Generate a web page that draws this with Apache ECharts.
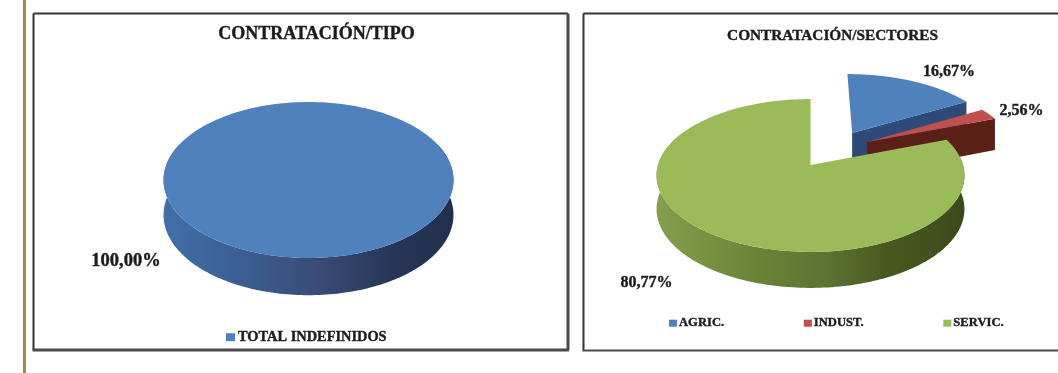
<!DOCTYPE html>
<html>
<head>
<meta charset="utf-8">
<style>html,body{margin:0;padding:0;background:#fff}#c{width:1058px;height:373px;filter:blur(0.4px)}</style>
<script src="https://cdn.jsdelivr.net/npm/echarts@6/dist/echarts.min.js"></script>
</head>
<body>
<div id="c"></div>
<script>
// ---- data ----
var typeTitle = 'CONTRATACIÓN/TIPO';
var typeNames = ['TOTAL INDEFINIDOS'];
var typeValues = [100.00];
var sectorTitle = 'CONTRATACIÓN/SECTORES';
var sectorNames = ['AGRIC.', 'INDUST.', 'SERVIC.'];
var sectorValues = [16.67, 2.56, 80.77];

// ---- look ----
var FONT = '"Liberation Serif", serif';
var TEXT = '#1c1c1c';
var BLUE = '#4f81bd', DARKBLUE = '#2f4a78';
var RED = '#c0504d', DARKRED = '#5a1f15';
var GREEN = '#9bbb59';
var HEAVY = {textBorderColor: TEXT, textBorderWidth: 0.4};
function hGrad(stops) {
  return {type: 'linear', x: 0, y: 0, x2: 1, y2: 0, global: false,
    colorStops: stops.map(function (s) { return {offset: s[0], color: s[1]}; })};
}
var blueSide = hGrad([[0, '#4070a8'], [0.3, '#3b5c90'], [0.55, '#384a74'], [0.8, '#263556'], [1, '#20304e']]);
var greenSide = hGrad([[0, '#839f4c'], [0.3, '#6c863a'], [0.55, '#5c7331'], [0.75, '#48591f'], [1, '#3c4a1b']]);

// Perspective disc: circle coordinates (u, v) to the page
var PERSP = 0.137;
var typeDisc = {cx: 308.5, cy: 169.3, a: 143.6, b: 76.5, d0: 34.5, d1: 2.75};
var sectorDisc = {cx: 810.5, cy: 165, a: 152.5, b: 75, d0: 33.25, d1: 2.75};

function project(disc, u, v, down) {
  var w = 1 + PERSP * v;
  return [disc.cx + disc.a * u / w,
          disc.cy - disc.b * v / w + (down ? disc.d0 - disc.d1 * v : 0)];
}
function rimPoint(disc, off, deg, down) {
  var r = deg * Math.PI / 180;
  return project(disc, off[0] + Math.sin(r), off[1] + Math.cos(r), down);
}
function topFace(disc, off, a0, a1) {
  var pts = [project(disc, off[0], off[1])];
  for (var i = 0; i <= 180; i++) pts.push(rimPoint(disc, off, a0 + (a1 - a0) * i / 180));
  return pts;
}
function arcSide(disc, off, a0, a1) {
  var t = [], b = [];
  for (var i = 0; i <= 180; i++) {
    var d = a0 + (a1 - a0) * i / 180;
    t.push(rimPoint(disc, off, d));
    b.unshift(rimPoint(disc, off, d, true));
  }
  return t.concat(b);
}
function radialSide(disc, off, deg) {
  return [project(disc, off[0], off[1]), rimPoint(disc, off, deg),
          rimPoint(disc, off, deg, true), project(disc, off[0], off[1], true)];
}
function poly(points, fill) {
  return {type: 'polygon', shape: {points: points}, style: {fill: fill}};
}
function pctText(v) { return v.toFixed(2).replace('.', ',') + '%'; }
function label(v, pos, size) {
  return {type: 'text', style: {text: pctText(v), x: pos[0], y: pos[1], fill: TEXT,
    stroke: TEXT, lineWidth: 0.4,
    font: 'bold ' + size + 'px ' + FONT, align: 'center', verticalAlign: 'middle'}, z2: 10};
}
function startAngle(values, idx) {
  var total = values.reduce(function (a, b) { return a + b; }, 0), s = 0;
  for (var i = 0; i < idx; i++) s += values[i];
  return s / total * 360;
}
function sweep(values, idx) {
  var total = values.reduce(function (a, b) { return a + b; }, 0);
  return values[idx] / total * 360;
}

// explode offsets of the slices on the disc, and how each slice is drawn
var sectorOffsets = [[0.29, 0.4537], [0.386, 0.32], [0, 0]];
var sectorColors = [BLUE, RED, GREEN];
var sectorLabelPos = [[949, 72], [1021.5, 111], [646.5, 283]];
var sectorSides = [
  function (off, a0, a1) { return [poly(radialSide(sectorDisc, off, a1), DARKBLUE)]; },
  function (off, a0, a1) { return [poly(radialSide(sectorDisc, off, a1), DARKRED)]; },
  function (off, a0, a1) { return [poly(arcSide(sectorDisc, off, a0, 300), greenSide)]; }
];

var series = [];
series.push({
  type: 'custom', name: typeNames[0], coordinateSystem: 'none', silent: true,
  itemStyle: {color: BLUE}, data: typeValues, z: 2,
  renderItem: function (params, api) {
    var off = [0, 0];
    return {type: 'group', children: [
      poly(arcSide(typeDisc, off, 70, 290), blueSide),
      poly(topFace(typeDisc, off, 0, 360), BLUE),
      label(api.value(0), [126, 261], 18.5)
    ]};
  }
});
sectorValues.forEach(function (val, i) {
  series.push({
    type: 'custom', name: sectorNames[i], coordinateSystem: 'none', silent: true,
    itemStyle: {color: sectorColors[i]}, data: [val], z: 2 + i,
    renderItem: function (params, api) {
      var a0 = startAngle(sectorValues, i), a1 = a0 + sweep(sectorValues, i), off = sectorOffsets[i];
      return {type: 'group', children: sectorSides[i](off, a0, a1).concat([
        poly(topFace(sectorDisc, off, a0, a1), sectorColors[i]),
        label(api.value(0), sectorLabelPos[i], 16)
      ])};
    }
  });
});

function frame(x, y, w, h, right, bottomWidth) {
  var s = {stroke: '#333', lineWidth: 2};
  var out = [
    {type: 'line', shape: {x1: x, y1: y, x2: x + w, y2: y}, style: s, z: -1},
    {type: 'line', shape: {x1: x, y1: y, x2: x, y2: y + h}, style: s, z: -1},
    {type: 'line', shape: {x1: x - 1, y1: y + h, x2: x + w + 1, y2: y + h}, style: {stroke: '#4a4a4a', lineWidth: bottomWidth}, z: -1}
  ];
  if (right) out.push({type: 'line', shape: {x1: x + w, y1: y, x2: x + w, y2: y + h},
    style: {stroke: '#4a4a4a', lineWidth: 3}, z: -1});
  return out;
}

var chart = echarts.init(document.getElementById('c'), null, {renderer: 'canvas'});
chart.setOption({
  animation: false,
  backgroundColor: '#ffffff',
  title: [
    {text: typeTitle, left: 311.5, top: 20, textAlign: 'center',
      textStyle: Object.assign({fontFamily: FONT, fontWeight: 'bold', fontSize: 18, color: TEXT}, HEAVY)},
    {text: sectorTitle, left: 827.5, top: 24, textAlign: 'center',
      textStyle: Object.assign({fontFamily: FONT, fontWeight: 'bold', fontSize: 15.3, color: TEXT}, HEAVY)}
  ],
  legend: [
    {data: typeNames, left: 221, top: 325, itemWidth: 9, itemHeight: 8, icon: 'rect',
      textStyle: Object.assign({fontFamily: FONT, fontWeight: 'bold', fontSize: 14.4, color: TEXT, padding: [0, 0, 0, -2]}, HEAVY)},
    {data: sectorNames, left: 664, top: 311.5, itemWidth: 8, itemHeight: 7, icon: 'rect', itemGap: 79.5,
      textStyle: Object.assign({fontFamily: FONT, fontWeight: 'bold', fontSize: 12.6, color: TEXT, padding: [0, 0, 0, -3]}, HEAVY)}
  ],
  graphic: [
    {type: 'rect', shape: {x: 23, y: 0, width: 3, height: 373}, style: {fill: '#a5884f'}, z: -1}
  ].concat(frame(33.5, 13.5, 534.5, 336.5, true, 3), frame(583.5, 13.5, 480, 337, false, 2)),
  series: series
});
</script>
</body>
</html>
